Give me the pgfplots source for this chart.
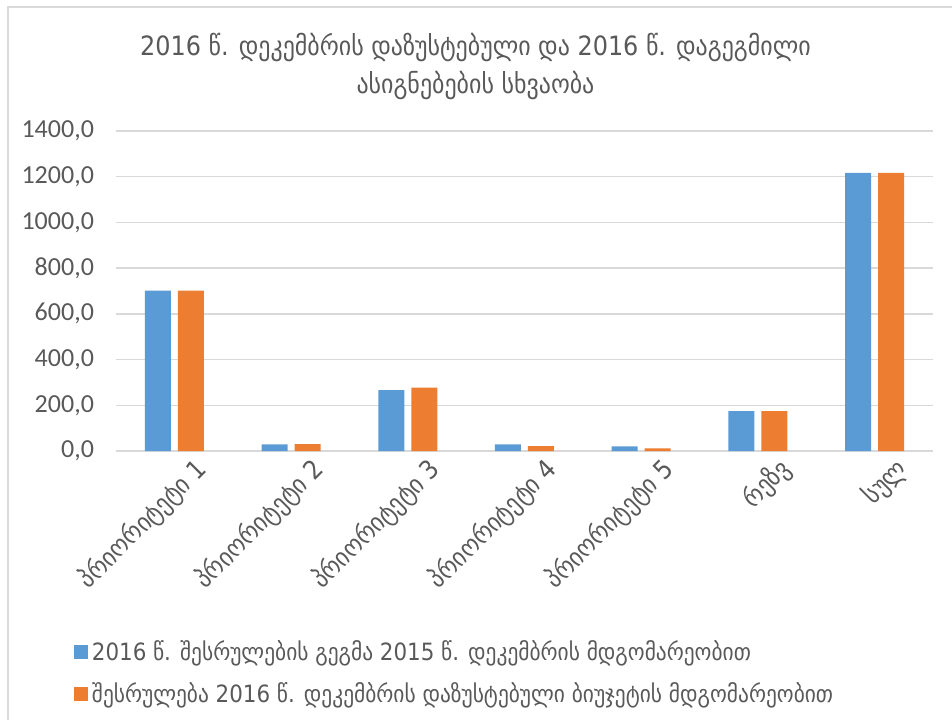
\documentclass[border=0pt]{standalone}
\usepackage{pgfplots}
\pgfplotsset{compat=1.18}
\usepackage{fontspec}
\setmainfont{Carlito}
\newfontfamily\geo{DejaVu Sans Condensed}

\definecolor{sblue}{HTML}{5B9BD5}
\definecolor{sorange}{HTML}{ED7D31}
\definecolor{txtgray}{HTML}{595959}
\definecolor{grd}{HTML}{D9D9D9}

% x: 0 = priority 1 ... 6 = total
\pgfplotstableread{
x plan fact
0 702 702
1 29 30
2 266 277
3 29 21
4 20 12
5 174 174
6 1217 1217
}\budget

\begin{document}
\begin{tikzpicture}
\useasboundingbox (0,0) rectangle (476pt,360pt);
\draw[grd, line width=0.75pt] (4pt,0) -- (4pt,356.5pt) -- (476pt,356.5pt);
\begin{axis}[
    at={(58pt,134.5pt)}, anchor=south west,
    scale only axis,
    width=408.5pt, height=160pt,
    ybar=3.5pt, bar width=13pt,
    xmin=-0.5, xmax=6.5,
    ymin=0, ymax=1400,
    xtick=data,
    xticklabels={პრიორიტეტი 1, პრიორიტეტი 2, პრიორიტეტი 3, პრიორიტეტი 4, პრიორიტეტი 5, რეზვ, სულ},
    ytick={0,200,...,1400},
    major tick length=0pt,
    axis x line*=bottom,
    y axis line style={draw=none},
    x axis line style={grd, line width=0.75pt, -},
    ymajorgrids,
    grid style={grd, line width=0.75pt},
    yticklabel style={font=\fontsize{13}{15}\selectfont, text=txtgray, xshift=-7.5pt},
    xticklabel style={font=\geo\fontsize{13}{15}\selectfont, text=txtgray, rotate=45, anchor=east, yshift=-15pt, xshift=8.5pt},
    /pgf/number format/assume math mode=true,
    /pgf/number format/.cd, fixed, fixed zerofill, precision=1, use comma, 1000 sep={},
    /pgfplots/.cd,
    title={\geo 2016 წ. დეკემბრის დაზუსტებული და 2016 წ. დაგეგმილი\\ \geo ასიგნებების სხვაობა},
    title style={at={(axis description cs:0.44,1.165)}, anchor=center, align=center,
        font=\fontsize{13.3}{19}\selectfont, text=txtgray},
    legend style={at={(axis description cs:-0.052,-0.58)}, anchor=north west,
        draw=none, fill=none, font=\geo\fontsize{11.9}{14}\selectfont, text=txtgray,
        row sep=5.5pt, inner sep=0pt},
    legend cell align=left,
    legend image code/.code={\fill[#1] (0pt,-3.5pt) rectangle (7pt,3.5pt);},
]
\addplot[fill=sblue, draw=none] table[x=x, y=plan] {\budget};
\addplot[fill=sorange, draw=none] table[x=x, y=fact] {\budget};
\legend{2016 წ. შესრულების გეგმა 2015 წ. დეკემბრის მდგომარეობით,
        შესრულება 2016 წ. დეკემბრის დაზუსტებული ბიუჯეტის მდგომარეობით}
\end{axis}
\end{tikzpicture}
\end{document}
